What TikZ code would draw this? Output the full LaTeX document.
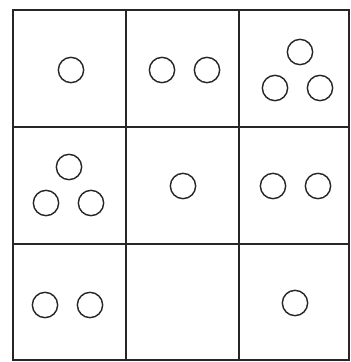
\documentclass[tikz,border=0pt]{standalone}
\begin{document}
\begin{tikzpicture}[x=1pt,y=-1pt,
  gridline/.style={line width=1.7pt,draw=black!85},
  dot/.style={circle,draw=black!85,line width=1.4pt,minimum size=25.3pt,inner sep=0pt}]
\useasboundingbox (0,0) rectangle (351,362);
% grid
\draw[gridline] (13,10) rectangle (349,360);
\draw[gridline] (126,10) -- (126,360);
\draw[gridline] (239,10) -- (239,360);
\draw[gridline] (13,127) -- (349,127);
\draw[gridline] (13,244) -- (349,244);
% row 1
\node[dot] (a1) at (71,70) {};
\node[dot] (b1) at (162,70) {};
\node[dot] (b2) at (207,70) {};
\node[dot] (c1) at (300,52) {};
\node[dot] (c2) at (275,88) {};
\node[dot] (c3) at (320,88) {};
% row 2
\node[dot] (d1) at (69,167) {};
\node[dot] (d2) at (46,203) {};
\node[dot] (d3) at (91,203) {};
\node[dot] (e1) at (183,186) {};
\node[dot] (f1) at (273,186) {};
\node[dot] (f2) at (318,186) {};
% row 3
\node[dot] (g1) at (45,305) {};
\node[dot] (g2) at (90,305) {};
\node[dot] (i1) at (295,303) {};
\end{tikzpicture}
\end{document}
